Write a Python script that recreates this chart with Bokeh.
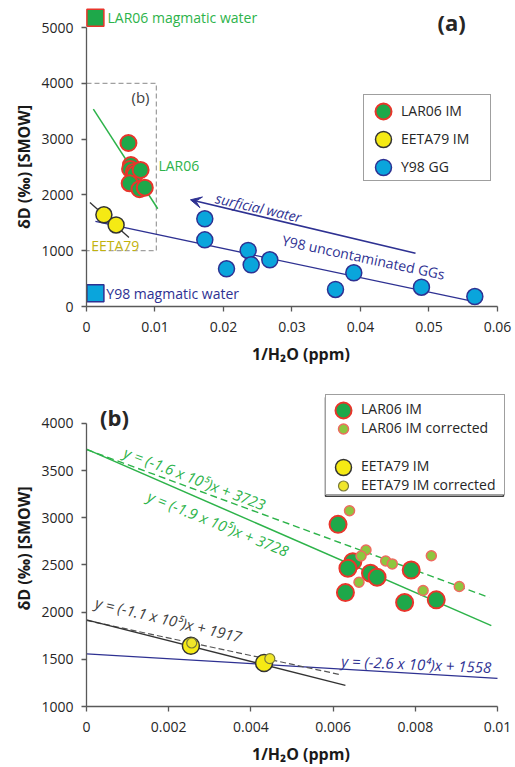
import math
from bokeh.plotting import figure
from bokeh.layouts import column
from bokeh.core.properties import value
from bokeh.models import (Range1d, FixedTicker, NumeralTickFormatter, Legend,
                          LegendItem, Arrow, VeeHead)
from bokeh.embed import file_html
from bokeh.resources import INLINE

# ---------------- data ----------------
lar_im_x = [0.00612, 0.00648, 0.00636, 0.00691, 0.00707, 0.00790, 0.00630, 0.00774, 0.00851]
lar_im_y = [2930, 2535, 2465, 2412, 2370, 2447, 2207, 2102, 2130]
lar_corr_x = [0.00640, 0.00680, 0.00668, 0.00728, 0.00744, 0.00839, 0.00663, 0.00819, 0.00907]
lar_corr_y = [3074, 2659, 2595, 2542, 2511, 2598, 2317, 2229, 2271]
eeta_im_x = [0.00254, 0.00432]
eeta_im_y = [1644, 1461]
eeta_corr_x = [0.00256, 0.00446]
eeta_corr_y = [1673, 1507]
y98_gg_x = [0.01727, 0.01727, 0.02360, 0.02404, 0.02044, 0.02676, 0.03902, 0.03635, 0.04890, 0.05669]
y98_gg_y = [1572, 1195, 1004, 747, 676, 837, 604, 305, 346, 179]
lar_magmatic_x = [0.0013]
lar_magmatic_y = [5174]
y98_magmatic_x = [0.0013]
y98_magmatic_y = [238]

# regression lines: slope, intercept, x extents
lar_fit = (-1.9e5, 3728)
lar_corr_fit = (-1.6e5, 3723)
eeta_fit = (-1.1e5, 1917)
eeta_corr_fit = (-0.93e5, 1912)
y98_fit = (-2.6e4, 1558)
lar_fit_a_x = [0.001, 0.0104]
eeta_fit_a_x = [0.0005, 0.0062]
y98_fit_a_x = [0.0013, 0.0566]
lar_fit_b_x = [0.0, 0.00985]
lar_corr_fit_b_x = [0.0, 0.0098]
eeta_fit_b_x = [0.0, 0.0063]
eeta_corr_fit_b_x = [0.0, 0.0062]
y98_fit_b_x = [0.0, 0.01]

box_b_x = [0.0, 0.0102, 0.0102, 0.0]
box_b_y = [4000, 4000, 1000, 1000]
arrow_x = [0.04803, 0.01518]
arrow_y = [955, 1912]

xa_ticks = [0, 0.01, 0.02, 0.03, 0.04, 0.05, 0.06]
xa_labels = ["0", "0.01", "0.02", "0.03", "0.04", "0.05", "0.06"]
ya_ticks = [0, 1000, 2000, 3000, 4000, 5000]
xb_ticks = [0, 0.002, 0.004, 0.006, 0.008, 0.01]
xb_labels = ["0", "0.002", "0.004", "0.006", "0.008", "0.01"]
yb_ticks = [1000, 1500, 2000, 2500, 3000, 3500, 4000]

# ---------------- colours ----------------
GREEN_FILL = "#1ea84a"
RED = "#e8352b"
LIGHT_GREEN = "#8dc63f"
LIGHT_RED = "#ee6b5f"
YELLOW = "#f5ea14"
BLUE_FILL = "#0aa5dc"
NAVY = "#2e3192"
GREEN_LINE = "#2db34a"
OLIVE = "#c2b20f"
DARK = "#262626"
AXIS = "#595959"
FONT = "Open Sans"

# frame geometry (canvas pixels) used to place legends
A_LEFT, A_BOTTOM = 86, 306
B_TOP = 376
B_LEFT, B_BOTTOM = 86, 707 - B_TOP
B_PX_PER_X = 411 / 0.01      # pixels per x unit in panel (b)
B_PX_PER_Y = 284 / 3000      # pixels per y unit in panel (b)


def fit_y(fit, xs):
    return [fit[0] * x + fit[1] for x in xs]


def style(p, xticks, xlabels, yticks, xb, yb):
    p.xaxis.ticker = FixedTicker(ticks=xticks)
    p.xaxis.formatter = NumeralTickFormatter(format="0.[000]")
    p.xaxis.major_label_overrides = {t: l for t, l in zip(xticks, xlabels)}
    p.yaxis.ticker = FixedTicker(ticks=yticks)
    p.yaxis.formatter = NumeralTickFormatter(format="0")
    p.xaxis.bounds = xb
    p.yaxis.bounds = yb
    p.xgrid.visible = False
    p.ygrid.visible = False
    p.outline_line_color = None
    for ax in p.axis:
        ax.axis_line_color = AXIS
        ax.axis_line_width = 1.3
        ax.major_tick_line_color = AXIS
        ax.major_tick_line_width = 1.3
        ax.major_tick_in = 0
        ax.major_tick_out = 5
        ax.minor_tick_line_color = None
        ax.major_label_text_font = FONT
        ax.major_label_text_font_size = "14px"
        ax.major_label_text_color = DARK
        ax.axis_label_text_font = FONT
        ax.axis_label_text_font_size = "16px"
        ax.axis_label_text_font_style = "bold"
        ax.axis_label_text_color = "#1a1a1a"
    p.xaxis.major_label_standoff = 10
    p.xaxis.axis_label_standoff = 8
    p.yaxis.major_label_standoff = 8
    p.yaxis.axis_label_standoff = 3
    p.xaxis.axis_label = "1/H\u2082O (ppm)"
    p.yaxis.axis_label = "\u03b4D (\u2030) [SMOW]"


def label(p, x, y, text, color, size="14px", style_="normal", align="left", angle_deg=0.0):
    p.text(x=[x], y=[y], text=[text], text_color=color, text_font=value(FONT),
           text_font_size=value(size), text_font_style=style_, text_align=align,
           text_baseline="middle", angle=math.radians(angle_deg), level="overlay")


def add_legend(p, fl, fb, items, left, top, height, **kw):
    kw.setdefault("label_text_font", FONT)
    kw.setdefault("label_text_font_size", "14px")
    kw.setdefault("label_text_color", DARK)
    p.add_layout(Legend(items=items, location=(left - fl, fb - top - height),
                        orientation="vertical", margin=0, **kw))


def text_legend(p, fl, fb, blank, labels, left, top, width, height, pad, row_h, spacing):
    items = [LegendItem(label=t, renderers=[blank]) for t in labels]
    add_legend(p, fl, fb, items, left, top, height, glyph_width=1, glyph_height=row_h,
               label_height=row_h, spacing=spacing, label_standoff=0,
               label_width=width - pad["left"] - pad["right"] - 1, padding=pad,
               border_line_color="#404040", border_line_width=1.5,
               background_fill_color="white", background_fill_alpha=1.0)


def marker_legend(p, fl, fb, renderers, cx, cys, marker_px):
    g = int(round(marker_px / 0.4))
    sp = int(round(cys[1] - cys[0])) - g if len(cys) > 1 else 0
    items = [LegendItem(label=" ", renderers=[r]) for r in renderers]
    height = len(cys) * g + (len(cys) - 1) * sp
    add_legend(p, fl, fb, items, cx - 20, cys[0] - g / 2, height, glyph_width=40,
               glyph_height=g, spacing=sp, label_standoff=0, label_width=1, padding=0,
               border_line_alpha=0.0, background_fill_alpha=0.0)


# ================= panel (a) =================
pa = figure(width=515, height=376, x_range=Range1d(0, 0.062628), y_range=Range1d(0, 5000),
            output_backend="svg", toolbar_location=None, min_border_left=86,
            min_border_right=0, min_border_top=27, min_border_bottom=70)
style(pa, xa_ticks, xa_labels, ya_ticks, (0, 0.06), (0, 5000))

pa.line(box_b_x, box_b_y, line_color="#a0a0a0", line_width=1.3, line_dash="5 3")
pa.line(lar_fit_a_x, fit_y(lar_fit, lar_fit_a_x), line_color=GREEN_LINE, line_width=1.5)
pa.line(eeta_fit_a_x, fit_y(eeta_fit, eeta_fit_a_x), line_color="#333333", line_width=1.3)
pa.line(y98_fit_a_x, fit_y(y98_fit, y98_fit_a_x), line_color=NAVY, line_width=1.3)
pa.add_layout(Arrow(end=VeeHead(size=11, fill_color=NAVY, line_color=NAVY),
                    x_start=arrow_x[0], y_start=arrow_y[0], x_end=arrow_x[1], y_end=arrow_y[1],
                    line_color=NAVY, line_width=1.5))

r_lar_a = pa.scatter(lar_im_x, lar_im_y, size=16, fill_color=GREEN_FILL, line_color=RED, line_width=2)
r_eeta_a = pa.scatter(eeta_im_x, eeta_im_y, size=16, fill_color=YELLOW, line_color="#333333", line_width=1.5)
r_y98 = pa.scatter(y98_gg_x, y98_gg_y, size=16, fill_color=BLUE_FILL, line_color=NAVY, line_width=1.5)
pa.scatter(lar_magmatic_x, lar_magmatic_y, marker="square", size=17, fill_color=GREEN_FILL,
           line_color=RED, line_width=1.5, level="overlay")
pa.scatter(y98_magmatic_x, y98_magmatic_y, marker="square", size=17, fill_color=BLUE_FILL,
           line_color=NAVY, line_width=1.5)
r_blank_a = pa.scatter([], [], size=1, fill_alpha=0, line_alpha=0)

label(pa, 0.00307, 5174, "LAR06 magmatic water", GREEN_LINE)
label(pa, 0.0029, 238, "Y98 magmatic water", NAVY)
label(pa, 0.0105, 2530, "LAR06", GREEN_LINE)
label(pa, 0.00069, 1093, "EETA79", OLIVE)
label(pa, 0.00788, 3746, "(b)", "#404040", size="15px", align="center")
label(pa, 0.0533, 5090, "(a)", DARK, size="22px", style_="bold", align="center")
label(pa, 0.02511, 1774, "surficial water", NAVY, style_="italic", align="center", angle_deg=-13)
label(pa, 0.04044, 883, "Y98 uncontaminated GGs", NAVY, align="center", angle_deg=-12)

text_legend(pa, A_LEFT, A_BOTTOM, r_blank_a, ["LAR06 IM", "EETA79 IM", "Y98 GG"],
            left=363, top=96, width=126, height=85,
            pad=dict(left=36, right=0, top=5, bottom=4), row_h=20, spacing=8)
marker_legend(pa, A_LEFT, A_BOTTOM, [r_lar_a], 383, [111], 16)
marker_legend(pa, A_LEFT, A_BOTTOM, [r_eeta_a], 383, [139], 16)
marker_legend(pa, A_LEFT, A_BOTTOM, [r_y98], 383, [167], 16)

# ================= panel (b) =================
pb = figure(width=515, height=391, x_range=Range1d(0, 0.010438), y_range=Range1d(1000, 4348.6),
            output_backend="svg", toolbar_location=None, min_border_left=86,
            min_border_right=0, min_border_top=14, min_border_bottom=60)
style(pb, xb_ticks, xb_labels, yb_ticks, (0, 0.01), (1000, 4000))

pb.line(y98_fit_b_x, fit_y(y98_fit, y98_fit_b_x), line_color=NAVY, line_width=1.2)
pb.line(eeta_corr_fit_b_x, fit_y(eeta_corr_fit, eeta_corr_fit_b_x), line_color="#555555",
        line_width=1.2, line_dash="6 3")
pb.line(eeta_fit_b_x, fit_y(eeta_fit, eeta_fit_b_x), line_color="#333333", line_width=1.3)
pb.line(lar_corr_fit_b_x, fit_y(lar_corr_fit, lar_corr_fit_b_x), line_color=GREEN_LINE,
        line_width=1.4, line_dash="7 4")
pb.line(lar_fit_b_x, fit_y(lar_fit, lar_fit_b_x), line_color=GREEN_LINE, line_width=1.5)

r_lar_b = pb.scatter(lar_im_x, lar_im_y, size=17, fill_color=GREEN_FILL, line_color=RED, line_width=2)
r_lar_c = pb.scatter(lar_corr_x, lar_corr_y, size=10, fill_color=LIGHT_GREEN, line_color=LIGHT_RED, line_width=1.5)
r_eeta_b = pb.scatter(eeta_im_x, eeta_im_y, size=17, fill_color=YELLOW, line_color="#333333", line_width=1.5)
r_eeta_c = pb.scatter(eeta_corr_x, eeta_corr_y, size=10, fill_color="#f0e62a", line_color="#7a7a3a", line_width=1.2)
r_blank_b = pb.scatter([], [], size=1, fill_alpha=0, line_alpha=0)

label(pb, 0.00068, 4063, "(b)", DARK, size="22px", style_="bold", align="center")
label(pb, 0.00093, 3704, "y = (-1.6 x 10\u2075)x + 3723", GREEN_LINE, size="15px", style_="italic", angle_deg=-21)
label(pb, 0.00151, 3239, "y = (-1.9 x 10\u2075)x + 3728", GREEN_LINE, size="15px", style_="italic", angle_deg=-22)
label(pb, 0.00022, 2109, "y = (-1.1 x 10\u2075)x + 1917", "#404040", size="15px", style_="italic", angle_deg=-13.5)
label(pb, 0.0062, 1486, "y = (-2.6 x 10\u2074)x + 1558", NAVY, size="15px", style_="italic", angle_deg=-2.5)

text_legend(pb, B_LEFT, B_BOTTOM, r_blank_b,
            ["LAR06 IM", "LAR06 IM corrected", " ", "EETA79 IM", "EETA79 IM corrected"],
            left=325, top=397 - B_TOP, width=178, height=99,
            pad=dict(left=34, right=0, top=4, bottom=0), row_h=19, spacing=0)
marker_legend(pb, B_LEFT, B_BOTTOM, [r_lar_b, r_eeta_b], 343, [410.5 - B_TOP, 467.5 - B_TOP], 16)
marker_legend(pb, B_LEFT, B_BOTTOM, [r_lar_c, r_eeta_c], 343, [429.5 - B_TOP, 486.5 - B_TOP], 10)

# outline of the panel (b) legend frame, drawn unclipped, from its pixel box via the panel scale
LEG_B_PX = dict(left=325, right=503, top=397, bottom=496)
pb.quad(left=[(LEG_B_PX["left"] - B_LEFT) / B_PX_PER_X],
        right=[(LEG_B_PX["right"] - B_LEFT) / B_PX_PER_X],
        top=[1000 + (707 - LEG_B_PX["top"]) / B_PX_PER_Y],
        bottom=[1000 + (707 - LEG_B_PX["bottom"]) / B_PX_PER_Y],
        fill_alpha=0.0, line_color="#404040", line_width=1.5, level="overlay")

layout = column(pa, pb)
open("out.html", "w").write(file_html(layout, INLINE))
